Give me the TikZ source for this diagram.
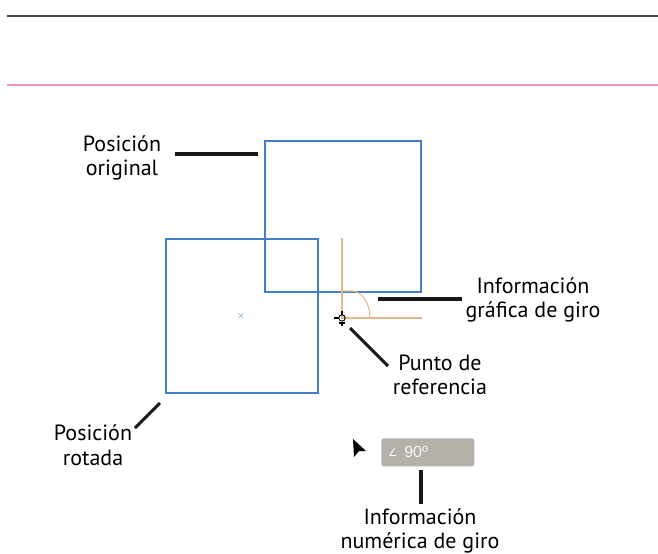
\documentclass[tikz,border=0pt]{standalone}
\usepackage{fontspec}
\setmainfont{PT Sans}
\newfontfamily\symfont{DejaVu Sans}
\newfontfamily\boxfont{Liberation Sans}
\definecolor{sqblue}{RGB}{66,128,200}
\definecolor{guide}{RGB}{226,184,142}
\definecolor{boxgray}{RGB}{180,177,170}
\definecolor{pinkline}{RGB}{236,150,190}
\definecolor{darkline}{RGB}{70,70,70}
\tikzset{
  lbl/.style={align=center,font=\fontsize{16.5}{18.5}\selectfont,inner sep=0pt},
  leader/.style={line width=2.3pt,black!90},
  square/.style={draw=sqblue,line width=1.3pt},
  guideline/.style={draw=guide,line width=0.8pt}
}
\begin{document}
\begin{tikzpicture}[x=0.75pt,y=-0.75pt]
\useasboundingbox (0,0) rectangle (658,554);
% top rules
\draw[darkline,line width=1.6pt] (7,16) -- (658,16);
\draw[pinkline,line width=1.6pt] (7,85) -- (658,85);
% squares
\coordinate (o1) at (265,141); \coordinate (o2) at (421,292);
\coordinate (r1) at (166,239); \coordinate (r2) at (318,393);
\draw[square] (o1) rectangle (o2);
\draw[square] (r1) rectangle (r2);
% centre mark
\node[text=sqblue,font=\fontsize{7}{7}\selectfont,inner sep=0pt] (ctr) at (241,316) {$\times$};
% rotation guides
\coordinate (ref) at (342,318);
\draw[guideline] (342,238) -- (ref) -- (422,318);
\draw[guideline] (342,291) -- (352,291) arc (270:360:18 and 27);
% reference point crosshair
\draw[black,line width=0.7pt] (ref) circle (3.2);
\draw[black,line width=0.8pt] (334,318) -- (338.5,318);
\draw[black,line width=0.8pt] (342,311) -- (342,314.5);
\draw[black,line width=0.8pt] (342,321.5) -- (342,326);
\draw[black,line width=0.8pt] (339,323) -- (345,323);
% labels
\node[lbl] (lorig) at (122,158) {Posición\\original};
\node[lbl] (lgraf) at (533,300) {Información\\gráfica de giro};
\node[lbl] (lref) at (440,375) {Punto de\\referencia};
\node[lbl] (lrot) at (93,445) {Posición\\rotada};
\node[lbl] (lnum) at (420,531) {Información\\numérica de giro};
% leaders
\coordinate (a1) at (175,154); \coordinate (a2) at (258,154);
\draw[leader] (a1) -- (a2);
\coordinate (b1) at (378,299); \coordinate (b2) at (462,299);
\draw[leader] (b1) -- (b2);
\coordinate (c1) at (350,328); \coordinate (c2) at (388,366);
\draw[leader] (c1) -- (c2);
\coordinate (d1) at (135,428); \coordinate (d2) at (160,403);
\draw[leader] (d1) -- (d2);
\coordinate (e1) at (421,470); \coordinate (e2) at (421,504);
\draw[leader] (e1) -- (e2);
% cursor
\fill[black] (353,439) -- (366,451) -- (359,451) -- (354,457) -- cycle;
% numeric box
\node[fill=boxgray,rounded corners=2pt,minimum width=93*0.75pt,minimum height=28*0.75pt,inner sep=0pt,anchor=north west] (box) at (381,438) {};
\node[text=white!93!gray,font=\symfont\fontsize{8}{8}\selectfont,inner sep=0pt] (ang) at (393,453) {∠};
\node[text=white!93!gray,font=\boxfont\fontsize{12}{12}\selectfont,inner sep=0pt,anchor=west] (deg) at (404,452) {90º};
\end{tikzpicture}
\end{document}
